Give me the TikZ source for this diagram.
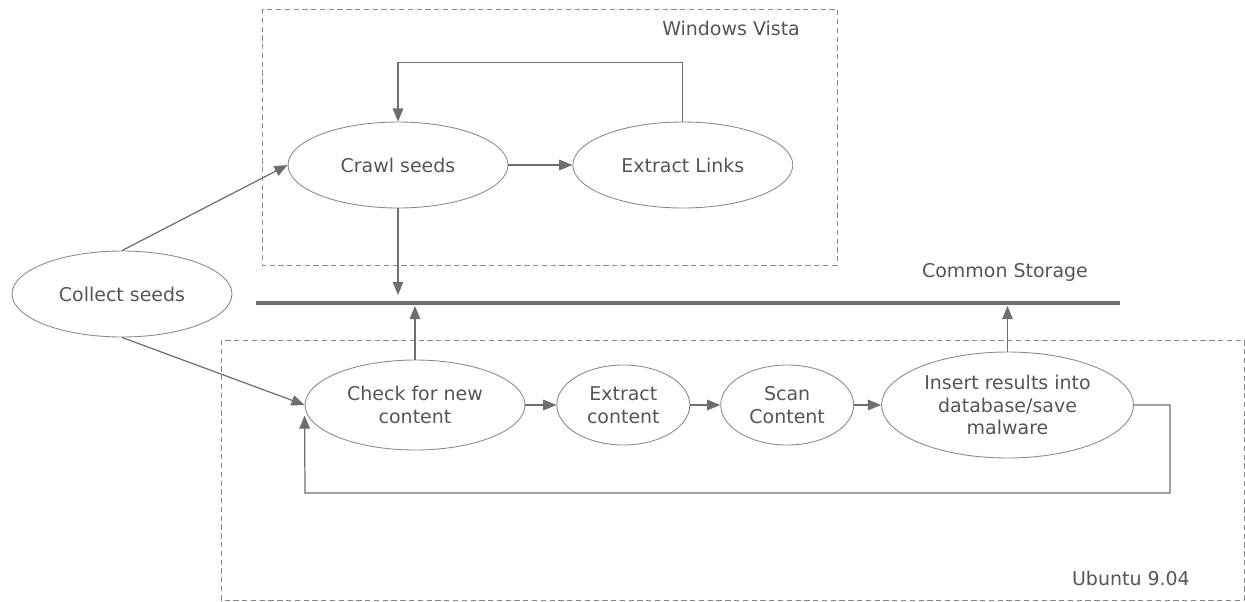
\documentclass[tikz,border=0pt]{standalone}
\usepackage{fontspec}
\setmainfont{DejaVu Sans}
\usetikzlibrary{arrows.meta,positioning,shapes.geometric}
\definecolor{linegrey}{HTML}{6E6E6E}
\definecolor{rimgrey}{HTML}{8A8A8A}
\definecolor{textgrey}{HTML}{555555}
\tikzset{
    %Define standard arrow tip
    >={Triangle[length=7.5pt,width=6pt]},
    %Define style for process ellipses
    proc/.style={
           ellipse,
           draw=rimgrey, line width=0.5pt,
           text=textgrey,
           align=center,
           inner sep=0pt,
           minimum width=4.4cm,
           minimum height=1.72cm},
    % Define arrow style
    pil/.style={
           ->,
           draw=linegrey,
           line width=0.7pt},
    % Define style for machine boxes
    zone/.style={
           draw=rimgrey,
           densely dashed,
           line width=0.5pt},
    tag/.style={text=textgrey}
}
\begin{document}
\begin{tikzpicture}[x=0.02cm, y=-0.02cm, font=\fontsize{10.8}{13}\selectfont]
\useasboundingbox (0,0) rectangle (1245,602);
%Machines
\draw[zone] (262,9) rectangle (837,265);
\node[tag, anchor=east] (vista) at (806,28) {Windows Vista};
\draw[zone] (221,340) rectangle (1244,600);
\node[tag, anchor=east] (ubuntu) at (1196,578) {Ubuntu 9.04};
%Storage bus
\coordinate (storeL) at (256,303);
\coordinate (storeR) at (1120,303);
\coordinate (above) at (0,295);
\coordinate (below) at (0,306);
\draw[linegrey, line width=2pt] (storeL) -- (storeR);
\node[tag] (storage) at (1005,272) {Common Storage};
%Nodes
\node[proc] (collect) at (122,294) {Collect seeds};
\node[proc] (crawl) at (398,165) {Crawl seeds};
\node[proc, right=1.28cm of crawl] (links) {Extract Links};
\node[proc, minimum height=1.8cm] (check) at (415,405) {Check for new\\content};
\node[proc, minimum width=2.66cm, minimum height=1.6cm, right=0.62cm of check] (extract) {Extract\\content};
\node[proc, minimum width=2.66cm, minimum height=1.6cm, right=0.6cm of extract] (scan) {Scan\\Content};
\node[proc, minimum width=5.04cm, minimum height=2.12cm, right=0.54cm of scan] (insert) {Insert results into\\database/save\\malware};
\coordinate (loopR) at (1170,493);
\coordinate (loopL) at (305,493);
%Arrows
\draw[pil] (collect.north) -- (crawl.west);
\draw[pil] (collect.south) -- (check.west);
\draw[pil] (crawl) -- (links);
\draw[pil] (links.north) -- ++(0,-59) -| (crawl.north);
\draw[pil] (crawl.south) -- (crawl.south |- above);
\draw[pil] (check.north) -- (check.north |- below);
\draw[pil] (check) -- (extract);
\draw[pil] (extract) -- (scan);
\draw[pil] (scan) -- (insert);
\draw[pil] (insert.north) -- (insert.north |- below);
\draw[pil] (insert.east) -| (loopR) -- (loopL) -- ([yshift=-6pt]check.west);
\end{tikzpicture}
\end{document}
